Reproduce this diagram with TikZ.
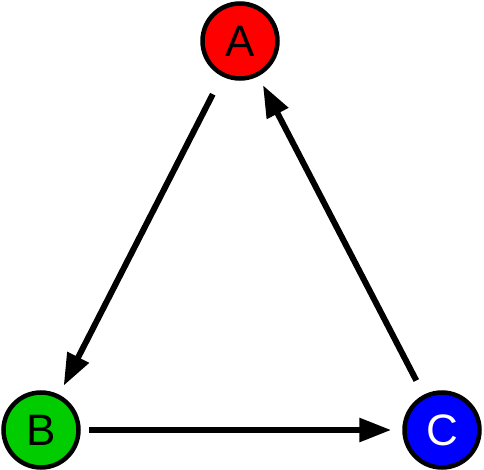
\documentclass[tikz,border=0pt]{standalone}
\usepackage{fontspec}
\setmainfont{Liberation Sans}
\usetikzlibrary{arrows.meta}
\definecolor{statered}{RGB}{255,0,0}
\definecolor{stategreen}{RGB}{0,204,0}
\definecolor{stateblue}{RGB}{0,0,255}

\begin{document}
\begin{tikzpicture}[x=1pt,y=1pt,
  state/.style={circle,draw=black,line width=4.5pt,minimum size=75pt,inner sep=0pt,
    font=\fontsize{44}{50}\selectfont},
  link/.style={line width=6pt,-{Triangle[length=32pt,width=23pt]}}]
\path[use as bounding box] (0,0) rectangle (484,469);
\node[state,fill=statered] (a) at (240,428) {A};
\node[state,fill=stategreen] (b) at (41,39) {B};
\node[state,fill=stateblue,text=white] (c) at (442,39) {C};
\draw[link,shorten <=20pt,shorten >=10pt] (a) -- (b);
\draw[link,shorten <=8pt,shorten >=11pt] (b) -- (c);
\draw[link,shorten <=16pt,shorten >=10pt] (c) -- (a);
\end{tikzpicture}
\end{document}
